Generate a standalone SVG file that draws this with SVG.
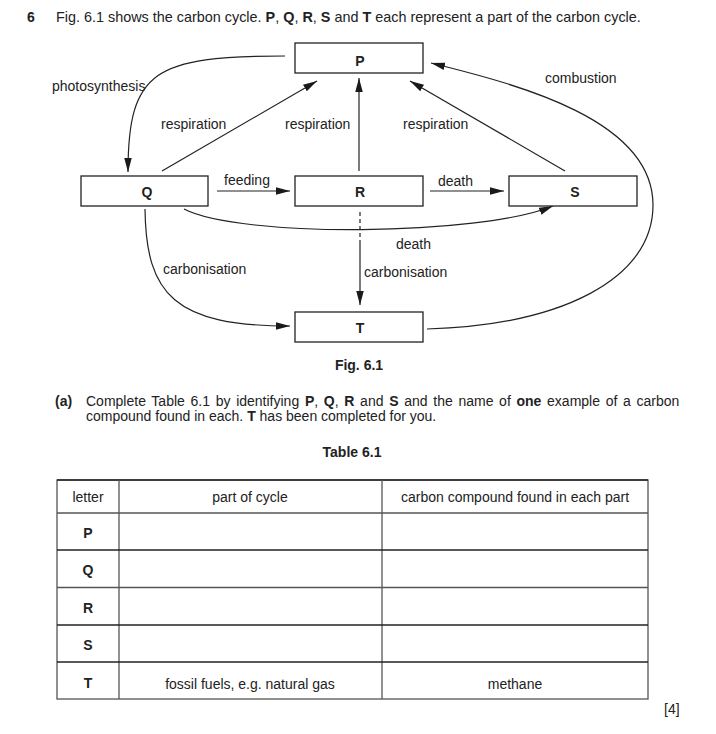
<svg xmlns="http://www.w3.org/2000/svg" width="716" height="734" viewBox="0 0 716 734">
<defs>
<marker id="arr" markerUnits="userSpaceOnUse" markerWidth="14" markerHeight="8" refX="14" refY="3.75" orient="auto">
<path d="M0,0 L14,3.75 L0,7.5 z" fill="#1a1a1a"/>
</marker>
<style>
text{font-family:"Liberation Sans",Arial,Helvetica,sans-serif;fill:#222;font-size:14px}
.b{font-weight:bold}
.c{text-anchor:middle}
.box{fill:#fff;stroke:#222;stroke-width:1.3}
.ln{fill:none;stroke:#222;stroke-width:1.2}
.arr{marker-end:url(#arr)}
.tb{stroke:#555;stroke-width:1.3}
.tbd{stroke:#222;stroke-width:1.3}
</style>
</defs>
<rect width="716" height="734" fill="#fff"/>

<text x="27" y="22" class="b">6</text>
<text x="56" y="22" style="font-size:14.4px">Fig. 6.1 shows the carbon cycle. <tspan class="b">P</tspan>, <tspan class="b">Q</tspan>, <tspan class="b">R</tspan>, <tspan class="b">S</tspan> and <tspan class="b">T</tspan> each represent a part of the carbon cycle.</text>

<g id="connectors">
<path class="ln arr" d="M285,56 C155,56 128,70 128,172"/>
<line class="ln arr" x1="162" y1="171" x2="317" y2="81"/>
<line class="ln arr" x1="359" y1="171" x2="359" y2="78"/>
<line class="ln arr" x1="565" y1="171" x2="410" y2="81"/>
<path class="ln arr" d="M427,329 C560,325 653,280 653,205 C653,120 520,85 431,63"/>
<line class="ln arr" x1="217" y1="191" x2="290" y2="191"/>
<line class="ln arr" x1="430" y1="191" x2="504" y2="191"/>
<path class="ln arr" d="M184,209 C240,238 480,236 553,206"/>
<path class="ln arr" d="M145,209 C146,295 175,326 290,326"/>
<line class="ln" x1="360" y1="212" x2="360" y2="244" stroke-dasharray="4,3"/>
<line class="ln arr" x1="360" y1="244" x2="360" y2="305"/>
</g>

<g id="labels">
<text x="52" y="91">photosynthesis</text>
<text x="161" y="129">respiration</text>
<text x="285" y="129">respiration</text>
<text x="403" y="129">respiration</text>
<text x="545" y="83">combustion</text>
<text x="224" y="185">feeding</text>
<text x="438" y="186">death</text>
<text x="396" y="249">death</text>
<text x="364" y="277">carbonisation</text>
<text x="163" y="274">carbonisation</text>
</g>

<g id="P"><rect class="box" x="295" y="43" width="128" height="30"/><text x="360" y="66" class="b c">P</text></g>
<g id="Q"><rect class="box" x="81" y="176" width="127" height="30"/><text x="147" y="197" class="b c">Q</text></g>
<g id="R"><rect class="box" x="295" y="176" width="128" height="30"/><text x="360" y="197" class="b c">R</text></g>
<g id="S"><rect class="box" x="509" y="176" width="128" height="30"/><text x="575" y="197" class="b c">S</text></g>
<g id="T"><rect class="box" x="295" y="312" width="128" height="30"/><text x="360" y="333" class="b c">T</text></g>

<text x="359" y="370" class="b c">Fig. 6.1</text>

<text x="55" y="406" class="b">(a)</text>
<text x="86" y="406" word-spacing="1.8">Complete Table 6.1 by identifying <tspan class="b">P</tspan>, <tspan class="b">Q</tspan>, <tspan class="b">R</tspan> and <tspan class="b">S</tspan> and the name of <tspan class="b">one</tspan> example of a carbon</text>
<text x="86" y="421">compound found in each. <tspan class="b">T</tspan> has been completed for you.</text>

<text x="352" y="457" class="b c">Table 6.1</text>

<g id="table">
<rect x="57" y="480" width="591" height="219" fill="none" class="tb"/>
<line class="tbd" x1="57" y1="480" x2="648" y2="480"/>
<line class="tb" x1="119" y1="480" x2="119" y2="699"/>
<line class="tb" x1="382" y1="480" x2="382" y2="699"/>
<line class="tb" x1="57" y1="513" x2="648" y2="513"/>
<line class="tbd" x1="57" y1="550" x2="648" y2="550"/>
<line class="tb" x1="57" y1="587.5" x2="648" y2="587.5"/>
<line class="tbd" x1="57" y1="625" x2="648" y2="625"/>
<line class="tbd" x1="57" y1="662" x2="648" y2="662"/>
<text x="88" y="502" class="c">letter</text>
<text x="250" y="502" class="c">part of cycle</text>
<text x="515" y="502" class="c">carbon compound found in each part</text>
<text x="88" y="538" class="b c">P</text>
<text x="88" y="575" class="b c">Q</text>
<text x="88" y="613" class="b c">R</text>
<text x="88" y="650" class="b c">S</text>
<text x="88" y="688" class="b c">T</text>
<text x="250" y="689" class="c">fossil fuels, e.g. natural gas</text>
<text x="515" y="689" class="c">methane</text>
</g>

<text x="664" y="714">[4]</text>
</svg>
